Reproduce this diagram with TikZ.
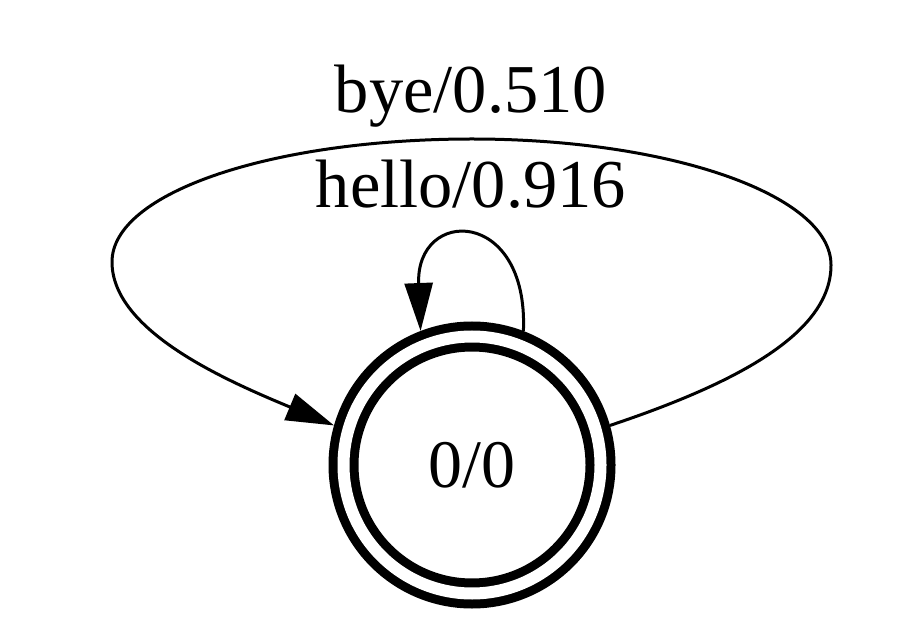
\documentclass[tikz,border=0pt]{standalone}
\usepackage{fontspec}
\setmainfont{Liberation Serif}
\usetikzlibrary{arrows.meta}
\begin{document}
\begin{tikzpicture}[x=1pt,y=1pt,
  state/.style={circle,draw,double,line width=9pt,double distance=12pt,minimum size=257pt,inner sep=0pt,outer sep=15pt,font=\fontsize{68}{80}\selectfont},
  edge/.style={line width=3pt,-{Triangle[length=48pt,width=28pt]}},
  lbl/.style={anchor=base,inner sep=0pt,font=\fontsize{68.5}{80}\selectfont}]
\useasboundingbox (0,0) rectangle (920,632);
\node[state] (s) at (472,167) {0/0};
\coordinate (R) at (831,367);
\coordinate (T) at (472,493);
\coordinate (L) at (112,370);
\draw[edge] (s.69) .. controls +(5,124) and +(-5,124) .. (s.111);
\draw[edge] (s.16) .. controls (740,250) and (831,300) .. (R)
  .. controls (831,437) and (670,493) .. (T)
  .. controls (274,493) and (112,440) .. (L)
  .. controls (112,300) and (230,250) .. (s.164);
\node[lbl] (l1) at (471,519) {bye/0.510};
\node[lbl] (l2) at (471,424) {hello/0.916};
\end{tikzpicture}
\end{document}
